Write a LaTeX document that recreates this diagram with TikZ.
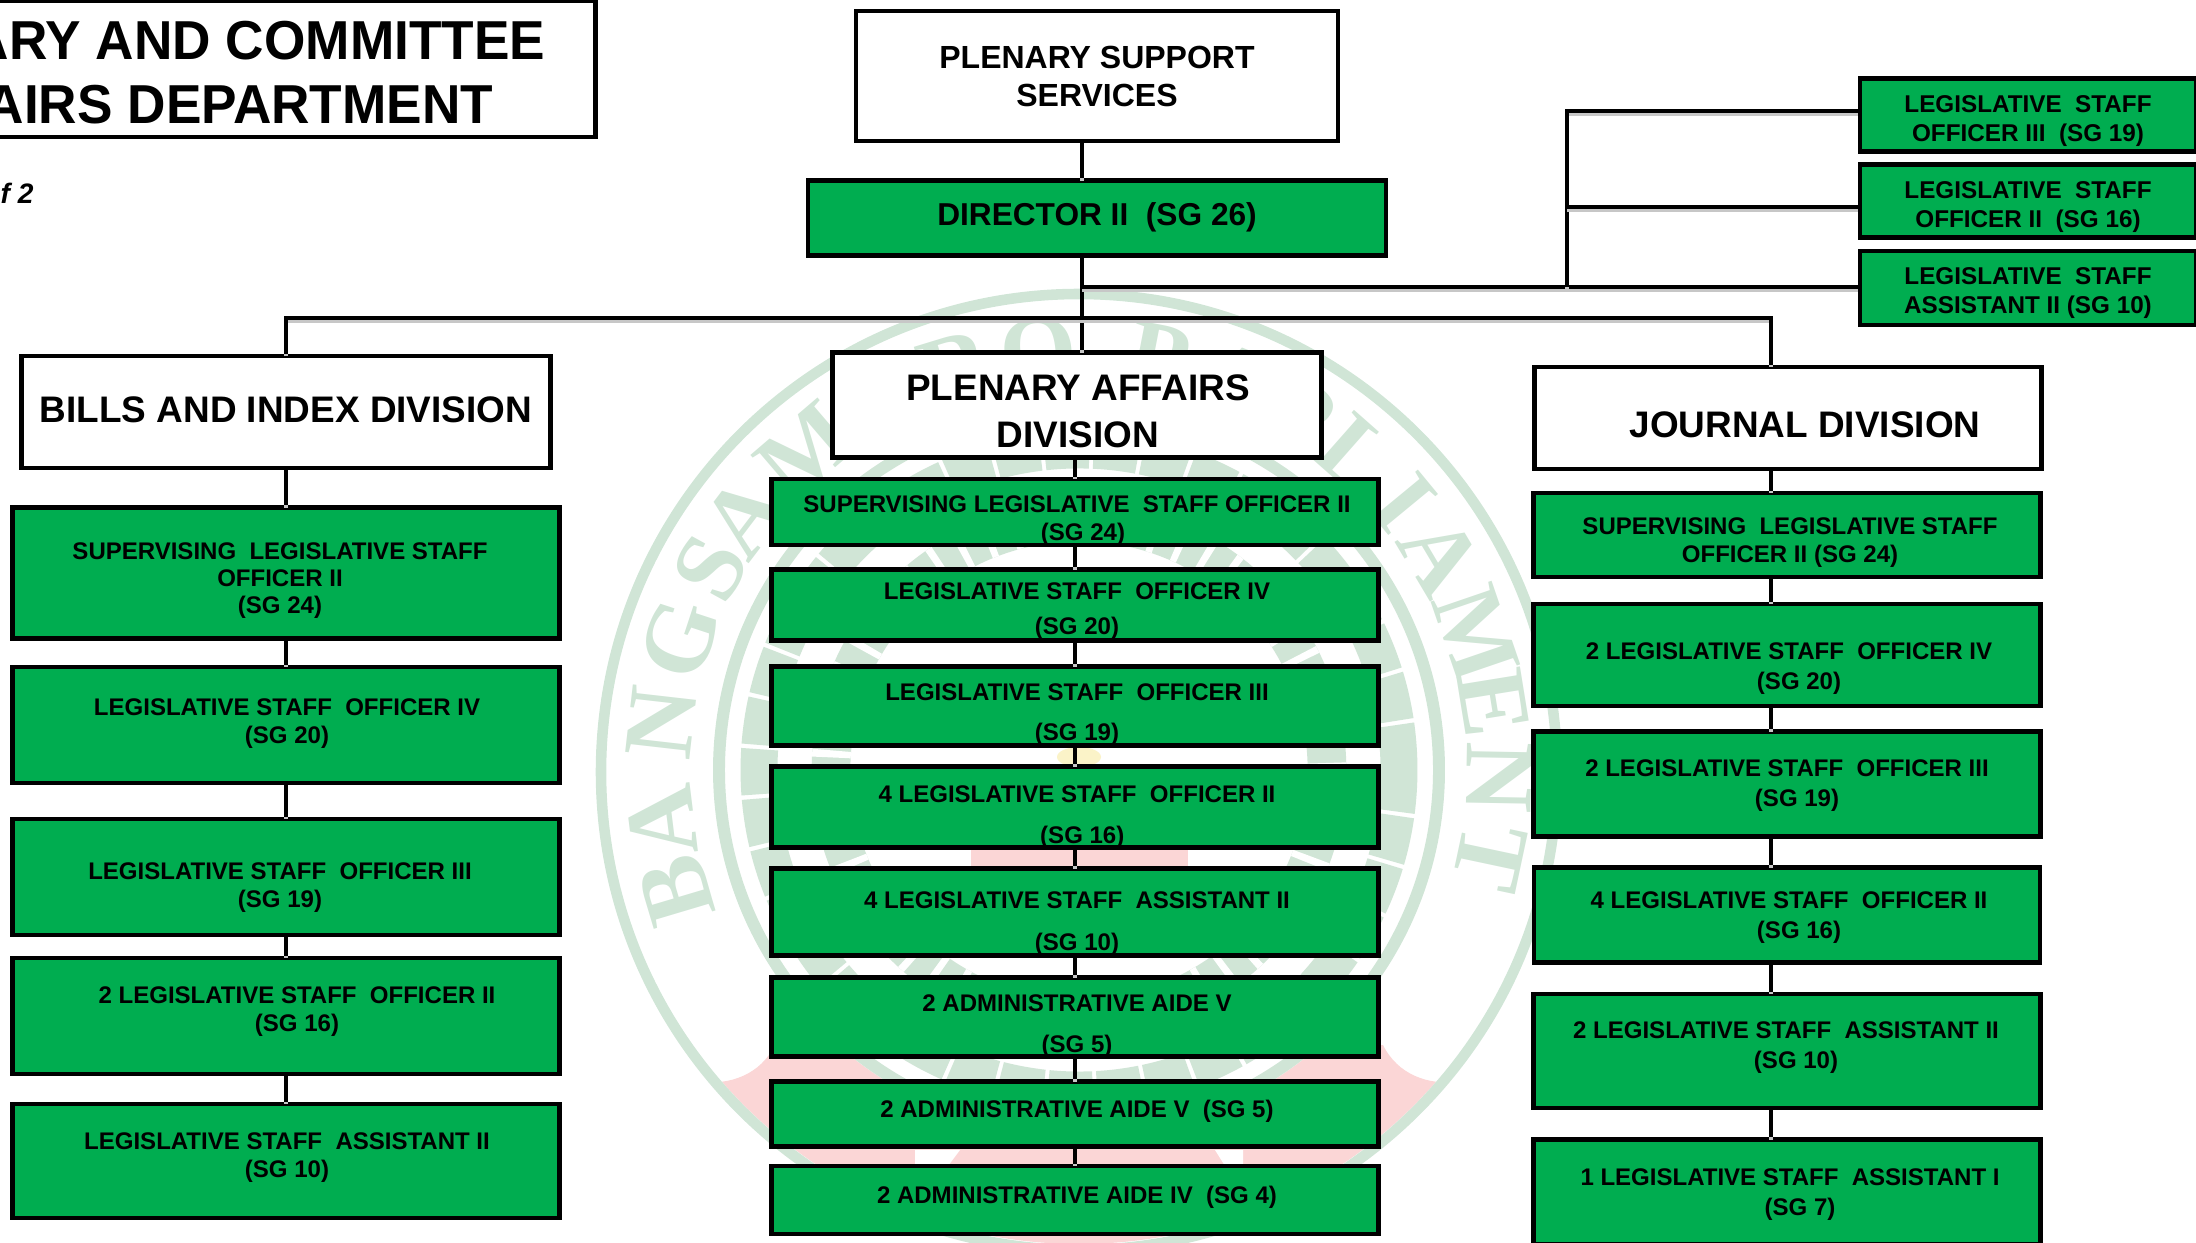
\documentclass[tikz,border=0pt]{standalone}
\usepackage{fontspec}
\setmainfont{Liberation Sans}
\newfontfamily\sealfont{Liberation Serif}
\newfontfamily\deptfont[FakeStretch=0.97]{Liberation Sans}
\definecolor{staffgreen}{HTML}{00AD50}
\definecolor{sealgreen}{HTML}{D0E5D6}
\definecolor{sealpink}{HTML}{FBD6D6}
\definecolor{sealyellow}{HTML}{FBF3C8}
\tikzset{
  line/.style={black,line width=1.4pt,preaction={draw=black!22,line width=1.4pt,transform canvas={yshift=-0.8pt}}},
  divbox/.style={draw=black,fill=white,line width=1.4pt,inner sep=0pt},
  staffbox/.style={draw=black,fill=staffgreen,line width=1.4pt,inner sep=0pt},
  toplabel/.style={inner sep=0pt,align=center,font=\bfseries\fontsize{9.1}{10.8}\selectfont},
  divlabel/.style={inner sep=0pt,align=center,font=\bfseries\fontsize{10.5}{13.4}\selectfont},
  stafflabel/.style={inner sep=0pt,align=center,yshift=-0.03cm,font=\bfseries\fontsize{6.83}{8}\selectfont},
  sidelabel/.style={inner sep=0pt,align=center,yshift=-0.03cm,font=\bfseries\fontsize{6.9}{8.3}\selectfont},
  sealletter/.style={inner sep=0pt,text=sealgreen,font=\sealfont\bfseries\fontsize{28}{28}\selectfont}
}
\begin{document}
\begin{tikzpicture}[x=0.01cm,y=0.01cm]
\useasboundingbox (0,0) rectangle (2196,-1243);
% seal behind the chart
\begin{scope}
\clip (1079,-770) circle (474);
\fill [sealpink] (700,-1082) .. controls (730,-1085) and (760,-1075) .. (775,-1045) -- (1383,-1045) .. controls (1398,-1075) and (1428,-1085) .. (1458,-1082) -- (1500,-1260) -- (660,-1260) -- cycle;
\end{scope}
\fill [white] (1079,-770) circle (366);
\draw [sealgreen,line width=3pt] (1079,-772) circle (478);
\draw [sealgreen,line width=3.4pt] (1079,-770) circle (360);
\draw [sealgreen,line width=10.5pt,dash pattern=on 12.8pt off 1.2pt] (1079,-770) circle (320);
\draw [sealgreen,line width=11pt] (1079,-770) circle (248);
\draw [white,line width=11pt,dash pattern=on 2pt off 6pt] (1079,-770) circle (248);
\fill [sealpink] (971,-800) rectangle (1188,-900);
\fill [sealyellow] (1079,-757) ellipse (22 and 10);
\fill [white] (915,-1150) -- (960,-1150) -- (948,-1166) -- (915,-1166) -- cycle;
\fill [white] (1215,-1150) -- (1243,-1150) -- (1243,-1166) -- (1225,-1166) -- cycle;
\foreach \letter/\ang in {B/196.6,A/187,N/173.5,G/161.8,S/151.3,A/142.8,M/130.6,O/118,R/107,O/95.6,P/79,A/68,R/58,L/48.6,I/39.5,A/30.7,M/18.9,E/9.2,N/-1,T/-12}
  \node [sealletter,rotate=\ang-90] at ({1079+420*cos(\ang)},{-770+420*sin(\ang)}) {\letter};
% header boxes
\node (dept) [divbox,minimum width=6.26cm,minimum height=1.36cm] at (282,-69) {};
\node (deptt) [inner sep=0pt,anchor=east,align=right,font=\deptfont\bfseries\fontsize{15.6}{18.2}\selectfont] at (546,-73) {ARY AND COMMITTEE\\AIRS DEPARTMENT\hspace*{14.8pt}};
\node (pagenote) [inner sep=0pt,anchor=west,font=\bfseries\itshape\fontsize{8}{8}\selectfont] at (0,-193) {f 2};
\node (support) [divbox,line width=1.2pt,minimum width=4.81cm,minimum height=1.3cm] at (1097,-76) {};
\node (supportt) [toplabel] at (1097,-76) {PLENARY SUPPORT\\SERVICES};
\node (director) [staffbox,line width=1.2pt,minimum width=5.78cm,minimum height=0.75cm] at (1097,-218) {};
\node (directort) [toplabel,font=\bfseries\fontsize{9}{10.8}\selectfont] at (1097,-217) {DIRECTOR II~~(SG 26)};
% side staff
\node (side1) [staffbox,line width=1.2pt,minimum width=3.36cm,minimum height=0.73cm] at (2028,-115) {};
\node (side1t) [sidelabel] at (2028,-118) {LEGISLATIVE~~STAFF\\OFFICER III~~(SG 19)};
\node (side2) [staffbox,line width=1.2pt,minimum width=3.36cm,minimum height=0.73cm] at (2028,-201) {};
\node (side2t) [sidelabel] at (2028,-204) {LEGISLATIVE~~STAFF\\OFFICER II~~(SG 16)};
\node (side3) [staffbox,line width=1.2pt,minimum width=3.36cm,minimum height=0.74cm] at (2028,-288) {};
\node (side3t) [sidelabel] at (2028,-290) {LEGISLATIVE~~STAFF\\ASSISTANT II (SG 10)};
% left column
\node (bills) [divbox,minimum width=5.28cm,minimum height=1.12cm] at (286,-412) {};
\node (billst) [divlabel] at (286,-410) {BILLS AND INDEX DIVISION};
\node (bills1) [staffbox,minimum width=5.46cm,minimum height=1.31cm] at (286,-573) {};
\node (bills1t) [stafflabel] at (280,-578) {SUPERVISING~~LEGISLATIVE STAFF\\[-0.3pt]OFFICER II\\[-0.3pt](SG 24)};
\node (bills2) [staffbox,minimum width=5.46cm,minimum height=1.16cm] at (286,-725) {};
\node (bills2t) [stafflabel] at (287,-721) {LEGISLATIVE STAFF~~OFFICER IV\\(SG 20)};
\node (bills3) [staffbox,minimum width=5.46cm,minimum height=1.16cm] at (286,-877) {};
\node (bills3t) [stafflabel] at (280,-885) {LEGISLATIVE STAFF~~OFFICER III\\(SG 19)};
\node (bills4) [staffbox,minimum width=5.46cm,minimum height=1.16cm] at (286,-1016) {};
\node (bills4t) [stafflabel] at (297,-1009) {2 LEGISLATIVE STAFF~~OFFICER II\\(SG 16)};
\node (bills5) [staffbox,minimum width=5.46cm,minimum height=1.14cm] at (286,-1161) {};
\node (bills5t) [stafflabel] at (287,-1155) {LEGISLATIVE STAFF~~ASSISTANT II\\(SG 10)};
% centre column
\node (affairs) [divbox,minimum width=4.88cm,minimum height=1.05cm] at (1077,-405) {};
\node (affairst) [divlabel] at (1078,-411) {PLENARY AFFAIRS\\DIVISION};
\node (aff1) [staffbox,minimum width=6.06cm,minimum height=0.66cm] at (1075,-512) {};
\node (aff1t) [stafflabel] at (1077,-518) {SUPERVISING LEGISLATIVE~~STAFF OFFICER II\\\hspace*{3.4pt}(SG 24)};
\node (aff2) [staffbox,minimum width=6.06cm,minimum height=0.71cm] at (1075,-605) {};
\node (aff2t) [stafflabel] at (1077,-608) {LEGISLATIVE STAFF~~OFFICER IV\\[2pt](SG 20)};
\node (aff3) [staffbox,minimum width=6.06cm,minimum height=0.79cm] at (1075,-706) {};
\node (aff3t) [stafflabel] at (1077,-712) {LEGISLATIVE STAFF~~OFFICER III\\[3.4pt](SG 19)};
\node (aff4) [staffbox,minimum width=6.06cm,minimum height=0.81cm] at (1075,-807) {};
\node (aff4t) [stafflabel] at (1077,-814) {4 LEGISLATIVE STAFF~~OFFICER II\\[3.7pt]\hspace*{3pt}(SG 16)};
\node (aff5) [staffbox,minimum width=6.06cm,minimum height=0.87cm] at (1075,-912) {};
\node (aff5t) [stafflabel] at (1077,-921) {4 LEGISLATIVE STAFF~~ASSISTANT II\\[4pt](SG 10)};
\node (aff6) [staffbox,minimum width=6.06cm,minimum height=0.79cm] at (1075,-1017) {};
\node (aff6t) [stafflabel] at (1077,-1023) {2 ADMINISTRATIVE AIDE V\\[3.7pt](SG 5)};
\node (aff7) [staffbox,minimum width=6.06cm,minimum height=0.65cm] at (1075,-1114) {};
\node (aff7t) [stafflabel] at (1077,-1108) {2 ADMINISTRATIVE AIDE V~~(SG 5)};
\node (aff8) [staffbox,minimum width=6.06cm,minimum height=0.68cm] at (1075,-1200) {};
\node (aff8t) [stafflabel] at (1077,-1194) {2 ADMINISTRATIVE AIDE IV~~(SG 4)};
% right column
\node (journal) [divbox,minimum width=5.06cm,minimum height=1.02cm] at (1788,-418) {};
\node (journalt) [divlabel] at (1805,-425) {JOURNAL DIVISION};
\node (jour1) [staffbox,minimum width=5.06cm,minimum height=0.84cm] at (1787,-535) {};
\node (jour1t) [stafflabel] at (1790,-540) {SUPERVISING~~LEGISLATIVE STAFF\\OFFICER II (SG 24)};
\node (jour2) [staffbox,minimum width=5.06cm,minimum height=1.02cm] at (1787,-655) {};
\node (jour2t) [stafflabel] at (1789,-666) {2 LEGISLATIVE STAFF~~OFFICER IV\\[0.5pt]\hspace*{5.7pt}(SG 20)};
\node (jour3) [staffbox,minimum width=5.06cm,minimum height=1.05cm] at (1787,-784) {};
\node (jour3t) [stafflabel] at (1787,-783) {2 LEGISLATIVE STAFF~~OFFICER III\\[0.5pt]\hspace*{5.7pt}(SG 19)};
\node (jour4) [staffbox,line width=1.2pt,minimum width=5.06cm,minimum height=0.95cm] at (1787,-915) {};
\node (jour4t) [stafflabel] at (1789,-915) {4 LEGISLATIVE STAFF~~OFFICER II\\[0.5pt]\hspace*{5.7pt}(SG 16)};
\node (jour5) [staffbox,minimum width=5.06cm,minimum height=1.14cm] at (1787,-1051) {};
\node (jour5t) [stafflabel] at (1786,-1045) {2 LEGISLATIVE STAFF~~ASSISTANT II\\[0.5pt]\hspace*{5.7pt}(SG 10)};
\node (jour6) [staffbox,minimum width=5.06cm,minimum height=1.05cm] at (1787,-1192) {};
\node (jour6t) [stafflabel] at (1790,-1192) {1 LEGISLATIVE STAFF~~ASSISTANT I\\[0.5pt]\hspace*{5.7pt}(SG 7)};
% connector positions
\coordinate (topx) at (1082,-287);
\coordinate (sidex) at (1567,-111);
\coordinate (jourx) at (1771,-318);
\coordinate (affx) at (1075,-500);
\coordinate (side2x) at (1860,-207);
% connectors
\draw [line] (support.south -| topx) -- (director.north -| topx);
\draw [line] (director.south -| topx) -- (affairs.north -| topx);
\draw [line] (topx) -- (side3.west |- topx);
\draw [line] (sidex |- topx) -- (sidex) -- (side1.west |- sidex);
\draw [line] (sidex |- side2x) -- (side2.west |- side2x);
\draw [line] (bills.north) -- (bills.north |- jourx) -- (jourx) -- (journal.north -| jourx);
\draw [line] (bills.south) -- (bills1.north);
\draw [line] (bills1.south) -- (bills2.north);
\draw [line] (bills2.south) -- (bills3.north);
\draw [line] (bills3.south) -- (bills4.north);
\draw [line] (bills4.south) -- (bills5.north);
\draw [line] (affairs.south -| affx) -- (aff1.north -| affx);
\draw [line] (aff1.south -| affx) -- (aff2.north -| affx);
\draw [line] (aff2.south -| affx) -- (aff3.north -| affx);
\draw [line] (aff3.south -| affx) -- (aff4.north -| affx);
\draw [line] (aff4.south -| affx) -- (aff5.north -| affx);
\draw [line] (aff5.south -| affx) -- (aff6.north -| affx);
\draw [line] (aff6.south -| affx) -- (aff7.north -| affx);
\draw [line] (aff7.south -| affx) -- (aff8.north -| affx);
\draw [line] (journal.south -| jourx) -- (jour1.north -| jourx);
\draw [line] (jour1.south -| jourx) -- (jour2.north -| jourx);
\draw [line] (jour2.south -| jourx) -- (jour3.north -| jourx);
\draw [line] (jour3.south -| jourx) -- (jour4.north -| jourx);
\draw [line] (jour4.south -| jourx) -- (jour5.north -| jourx);
\draw [line] (jour5.south -| jourx) -- (jour6.north -| jourx);
\end{tikzpicture}
\end{document}
